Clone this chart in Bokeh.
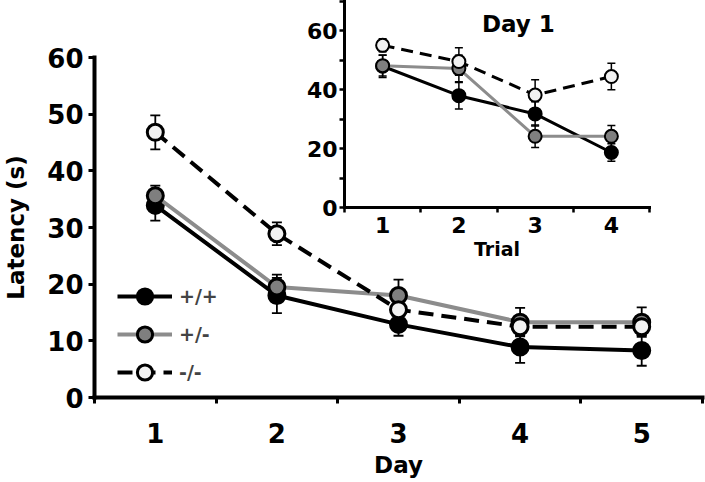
from bokeh.plotting import figure
from bokeh.models import (ColumnDataSource, Range1d, FixedTicker, Whisker, TeeHead,
                          Legend, LegendItem, Label)
from bokeh.layouts import column
from bokeh.embed import file_html
from bokeh.resources import INLINE

# ---------------- data ----------------
days = [1, 2, 3, 4, 5]
wt_mean = [33.9, 18.0, 12.9, 8.9, 8.3]
wt_err = [2.7, 3.1, 2.0, 2.8, 2.7]
het_mean = [35.6, 19.5, 18.0, 13.3, 13.3]
het_err = [1.8, 2.2, 2.8, 2.5, 2.6]
ko_mean = [46.8, 28.9, 15.5, 12.5, 12.5]
ko_err = [3.0, 2.0, 1.5, 1.5, 1.5]

trials = [1, 2, 3, 4]
wt_t = [48.0, 38.0, 31.8, 18.7]
wt_t_err = [3.8, 4.5, 4.1, 3.0]
het_t = [48.2, 47.2, 24.2, 24.2]
het_t_err = [3.5, 4.5, 3.8, 3.7]
ko_t = [55.1, 49.6, 38.2, 44.5]
ko_t_err = [2.2, 4.7, 5.2, 4.5]

main_yticks = [0, 10, 20, 30, 40, 50, 60]
inset_yticks = [0, 20, 40, 60]
inset_yminor = [10, 30, 50, 70]

labels = ["+/+", "+/-", "-/-"]

FONT = "DejaVu Sans"
GRAY_LINE = "#8c8c8c"
GRAY_FILL = "#7f7f7f"
OPEN_FILL = "#f2f2f2"

styles_main = [
    dict(line_color="black", line_dash="solid", fill="black"),
    dict(line_color=GRAY_LINE, line_dash="solid", fill=GRAY_FILL),
    dict(line_color="black", line_dash="15 8", fill=OPEN_FILL),
]


def style_axis(ax, size, lw, tick_w, tick_out):
    ax.axis_line_width = lw
    ax.axis_line_color = "black"
    ax.axis_line_cap = "square"
    ax.major_tick_line_width = tick_w
    ax.minor_tick_line_width = tick_w
    ax.major_tick_out = tick_out
    ax.major_tick_in = 0
    ax.minor_tick_out = tick_out
    ax.minor_tick_in = 0
    ax.major_label_text_font = FONT
    ax.major_label_text_font_style = "bold"
    ax.major_label_text_font_size = size
    ax.major_label_text_color = "black"
    ax.axis_label_text_font = FONT
    ax.axis_label_text_font_style = "bold"
    ax.axis_label_text_color = "black"


# ---------------- main figure ----------------
p = figure(width=705, height=482, output_backend="svg", toolbar_location=None,
           x_range=Range1d(0.5, 5.5), y_range=Range1d(0, 60),
           min_border_left=92, min_border_right=3, min_border_top=57, min_border_bottom=85)
p.xgrid.visible = False
p.ygrid.visible = False
p.outline_line_color = None
p.background_fill_color = "white"

xa = p.xaxis[0]
xa.ticker = FixedTicker(ticks=days, minor_ticks=[d - 0.5 for d in days] + [days[-1] + 0.5])
style_axis(xa, "26px", 4, 3, 6)
xa.major_tick_line_color = None
xa.minor_tick_line_color = "black"
xa.major_label_standoff = 19
xa.axis_label = "Day"
xa.axis_label_text_font_size = "23px"
xa.axis_label_standoff = 6

ya = p.yaxis[0]
ya.ticker = FixedTicker(ticks=main_yticks)
style_axis(ya, "26px", 4, 3, 6)
ya.minor_tick_line_color = None
ya.major_label_standoff = 5
ya.axis_label = "Latency (s)"
ya.axis_label_text_font_size = "23px"
ya.axis_label_standoff = 15

items = []
for lab, mean, err, st in zip(labels, [wt_mean, het_mean, ko_mean], [wt_err, het_err, ko_err], styles_main):
    src = ColumnDataSource(dict(x=days, y=mean,
                                lo=[m - e for m, e in zip(mean, err)],
                                hi=[m + e for m, e in zip(mean, err)]))
    w = Whisker(source=src, base="x", upper="hi", lower="lo", line_color="black", line_width=1.8,
                upper_head=TeeHead(size=10, line_width=1.8), lower_head=TeeHead(size=10, line_width=1.8),
                level="underlay")
    p.add_layout(w)
    lr = p.line("x", "y", source=src, line_color=st["line_color"], line_width=4, line_dash=st["line_dash"])
    sr = p.scatter("x", "y", source=src, size=16, fill_color=st["fill"], line_color="black", line_width=3)
    items.append(LegendItem(label=lab, renderers=[lr, sr]))

legend = Legend(items=items, location=(23, 6), glyph_width=55, glyph_height=38, spacing=0,
                label_standoff=7, padding=0, margin=0, border_line_color=None,
                background_fill_alpha=0, label_text_font=FONT, label_text_font_style="bold",
                label_text_font_size="19px", label_height=38)
p.add_layout(legend)

# ---------------- inset ----------------
q = figure(width=402, height=262, output_backend="svg", toolbar_location=None,
           x_range=Range1d(0.5, 4.5), y_range=Range1d(0, 70),
           min_border_left=92, min_border_right=3, min_border_top=1, min_border_bottom=54)
q.xgrid.visible = False
q.ygrid.visible = False
q.outline_line_color = None
q.background_fill_alpha = 0
q.border_fill_alpha = 0

qx = q.xaxis[0]
qx.ticker = FixedTicker(ticks=trials, minor_ticks=[t - 0.5 for t in trials] + [trials[-1] + 0.5])
style_axis(qx, "22px", 3, 2.5, 5)
qx.major_tick_line_color = None
qx.minor_tick_line_color = "black"
qx.major_label_standoff = 4
qx.axis_label = "Trial"
qx.axis_label_text_font_size = "19px"
qx.axis_label_standoff = 2

qy = q.yaxis[0]
qy.ticker = FixedTicker(ticks=inset_yticks, minor_ticks=inset_yminor)
style_axis(qy, "22px", 3, 2.5, 5)
qy.minor_tick_line_color = "black"
qy.major_label_standoff = 2

styles_inset = [
    dict(line_color="black", line_dash="solid", fill="black"),
    dict(line_color=GRAY_LINE, line_dash="solid", fill=GRAY_FILL),
    dict(line_color="black", line_dash="12 7", fill=OPEN_FILL),
]
for mean, err, st in zip([wt_t, het_t, ko_t], [wt_t_err, het_t_err, ko_t_err], styles_inset):
    src = ColumnDataSource(dict(x=trials, y=mean,
                                lo=[m - e for m, e in zip(mean, err)],
                                hi=[m + e for m, e in zip(mean, err)]))
    w = Whisker(source=src, base="x", upper="hi", lower="lo", line_color="black", line_width=1.5,
                upper_head=TeeHead(size=8, line_width=1.5), lower_head=TeeHead(size=8, line_width=1.5),
                level="underlay")
    q.add_layout(w)
    q.line("x", "y", source=src, line_color=st["line_color"], line_width=3, line_dash=st["line_dash"])
    q.scatter("x", "y", source=src, size=13, fill_color=st["fill"], line_color="black", line_width=2)

q.add_layout(Label(x=2.78, y=62.2, text="Day 1", text_align="center", text_baseline="middle",
                   text_font=FONT, text_font_style="bold", text_font_size="23px", text_color="black"))

q.styles = {"position": "absolute", "left": "250px", "top": "0px",
            "width": "402px", "height": "262px"}
layout = column(p, q, width=705, height=482, sizing_mode="fixed",
                styles={"position": "absolute", "left": "0px", "top": "0px"})

open("out.html", "w").write(file_html(layout, INLINE))
